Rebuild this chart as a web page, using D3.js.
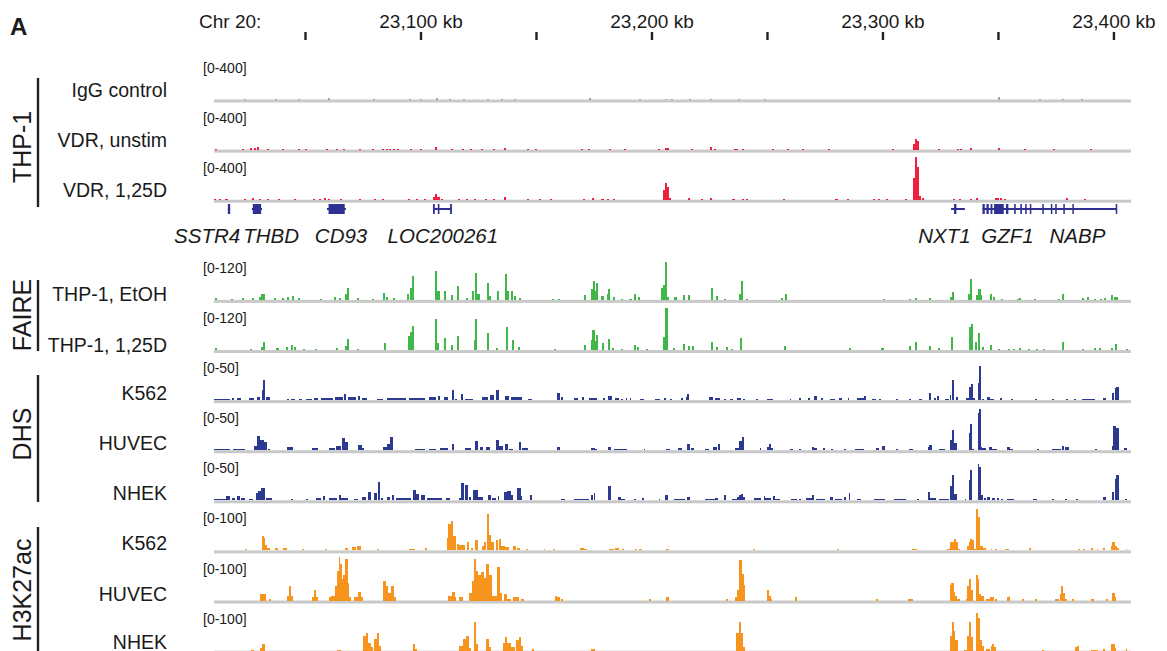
<!DOCTYPE html>
<html><head><meta charset="utf-8">
<script src="https://cdn.jsdelivr.net/npm/d3@7"></script>
<style>
body{margin:0;background:#fff}
svg{display:block;font-family:"Liberation Sans",Arial,Helvetica,sans-serif}
</style>
</head><body>
<svg id="chart" width="1167" height="651"></svg>
<script>
// Genomic positions are in kb past chr20:23,000 kb
const KB0 = 23000;
const viewKb = [23010.6, 23407.6];
const axisTicks = [23050, 23100, 23150, 23200, 23250, 23300, 23350, 23400];
const labeledTicks = [23100, 23200, 23300, 23400];

// [kb, value] bars
const iggControl = [[24,9],[37.4,9],[47.4,9],[60.4,18],[79.9,9],[95.5,9],[100.2,9],[107.1,18],[112.8,9],[118.8,9],[129.2,9],[135.3,9],[140.9,9],[173.4,18],[195,9],[206.3,9],[208.9,9],[216.7,9],[225.8,9],[237.9,9],[249.1,9],[350.3,27],[368.2,9],[378.1,9],[386.4,9]];
const vdrUnstim = [[11.5,9],[23.2,9],[26.6,18],[28.2,18],[29.7,27],[34,9],[40.5,9],[47.2,9],[50.4,9],[59.5,9],[63.9,9],[66.9,9],[73.8,9],[79.4,9],[83.8,9],[85.3,9],[86.8,9],[88.5,9],[90.3,9],[95.9,9],[100.2,9],[106.7,27],[113.6,9],[118.4,9],[121.9,9],[126.6,9],[131.8,9],[136.6,18],[146.5,9],[150,9],[169.9,9],[172.9,9],[182,9],[188.5,9],[203.2,9],[206.3,18],[207.1,18],[217.5,9],[225.8,27],[227.5,9],[236.1,9],[237,9],[239.6,9],[252.6,9],[259.1,9],[265.6,9],[276.8,9],[304.5,9],[313.6,55],[314.5,97],[315.4,75],[324.5,9],[332.7,9],[334,9],[338.4,18],[350.5,18],[361.9,9],[374.3,9],[390.3,9]];
const vdr125D = [[11,9],[13,9],[16,9],[24,9],[27.3,18],[30.5,9],[34,9],[38.9,9],[45.5,9],[53.8,9],[56.3,9],[58.8,18],[60.4,9],[65.4,9],[73.7,9],[80.3,9],[83.6,9],[95.2,9],[98.5,9],[101.9,9],[105.9,27],[106.8,52],[107.8,27],[109.3,9],[116.7,9],[120.1,9],[123.4,9],[128.4,9],[131.7,9],[136.6,27],[146.5,9],[151.6,9],[156.5,9],[170.6,9],[174.7,18],[178.8,9],[181.2,9],[183.6,9],[205.4,90],[206.3,155],[207.1,120],[208,18],[216.1,18],[221.7,9],[225.8,18],[235.5,9],[239.6,9],[241.2,9],[257.4,9],[280.1,9],[284.9,9],[296.3,9],[298.7,9],[301.9,9],[310,9],[313.8,200],[314.6,385],[315.4,300],[316.2,30],[317.4,18],[331.1,9],[333.5,9],[338.3,9],[340.9,18],[349,18],[350.2,18],[351.3,18],[353,9],[379.7,18],[387.8,9]];
const faireEtOH = [[11.6,5],[18.2,3],[23.2,5],[27.3,5],[30.6,8],[31.6,16],[32.4,16],[37.2,5],[40.6,5],[42.6,8],[44.7,11],[47.2,5],[57.1,3],[62.9,8],[65.1,5],[67.9,16],[68.7,33],[72.9,5],[79.5,3],[84.2,18],[85.3,8],[88.6,5],[94.7,16],[95.7,33],[96.9,65],[106.8,79],[107.8,25],[110.6,25],[113.5,14],[116.1,38],[120.1,5],[122.9,25],[124.2,74],[125.1,16],[129.2,46],[130,11],[133.7,25],[137,71],[138,25],[139.6,25],[140.8,11],[142.9,5],[157.4,3],[159.8,3],[171.4,14],[174.2,30],[175.1,52],[175.8,25],[176.5,46],[178.8,11],[181.2,16],[181.7,30],[183.6,8],[187.2,3],[190.9,3],[192.9,16],[194.5,8],[204.7,33],[205.5,40],[206.3,104],[207.1,8],[210.4,8],[214.1,14],[216.1,14],[226.1,33],[228.2,11],[231.9,3],[238.4,16],[239,52],[241.2,3],[256.6,5],[258.2,16],[300.6,3],[312,3],[314.6,5],[320.6,5],[329.8,8],[330.6,22],[337.6,16],[338.4,57],[340.9,14],[342,30],[342.8,14],[346.8,16],[348.1,8],[351.7,3],[358.7,3],[359.5,5],[366,3],[376.5,3],[378.1,16],[386.7,5],[389.1,8],[391.9,3],[394.8,3],[396.5,5],[399.5,14],[400.5,8],[401.7,8]];
const faire125D = [[11.6,5],[26.5,3],[31.3,8],[32.3,22],[38.1,5],[42.2,8],[44.2,14],[45.5,8],[49.7,3],[54.6,3],[63.8,5],[67.9,11],[68.7,30],[72.9,3],[84.5,19],[95.2,38],[96.1,50],[96.9,65],[106.8,85],[107.7,20],[110.8,33],[113.5,14],[116.3,38],[123.4,27],[124.2,85],[129.2,46],[133.3,5],[137.3,63],[140,27],[142.5,8],[158.2,3],[171.4,14],[174.2,27],[174.9,55],[175.5,25],[176.5,41],[179.1,19],[181.7,30],[183.3,5],[187.4,3],[192.9,14],[194.2,8],[197.9,3],[205.4,35],[206.5,115],[209.9,5],[213.9,16],[216.4,11],[218,11],[226.1,22],[228.4,8],[232.6,8],[234.7,3],[238.9,33],[257.9,11],[286.1,5],[300,5],[312,11],[314.6,22],[320.6,11],[324.3,5],[330.1,35],[337.9,63],[338.6,71],[340.5,22],[341.8,46],[343.4,8],[347,14],[350.5,3],[354.6,3],[357,3],[359.5,5],[363.5,3],[366.8,3],[370,3],[378.1,22],[387,3],[391.9,5],[394.3,5],[399.5,5],[401.1,16],[405.7,3]];

// [startKb, endKb, value] bars
const dhsK562 = [[10.7,17.4,1.1],[18.2,19.2,2.3],[20.7,22.3,2.3],[25.7,28.1,2.3],[29,30.6,3.4],[31.5,31.9,11],[31.9,32.8,23],[33.1,34.8,3.4],[42.2,43,1.1],[43.9,45.5,1.1],[47.2,48.9,1.1],[50.5,53,1.1],[53.8,55.5,2.3],[57.1,62.1,2.3],[63,66.3,3.4],[66.7,67.9,6.8],[68.7,72,3.4],[72.9,73.7,4.5],[74.5,77,2.3],[81.2,83.6,1.7],[85.3,93.6,2.3],[95.2,101.9,2.3],[103.5,106.8,3.4],[107.7,108.5,4.5],[110.2,111.8,3.4],[113.5,114.5,11.4],[115.1,116,1.1],[117.6,118.4,6.8],[119.3,122.6,1.1],[126.7,129.2,3.4],[130,131.7,5.7],[132.9,133.8,11.4],[136.7,138.3,4.5],[139.1,144.1,3.4],[146.6,148.3,1.1],[159,160.2,8],[160.7,161.8,3.4],[166.5,168.1,2.3],[169.8,170.7,3.4],[173.1,176.4,2.3],[179.1,180,2.3],[181.2,182.8,4.5],[184.4,186.1,2.3],[186.9,187.6,1.1],[188.8,189.3,2.3],[190.6,191.3,2.3],[195,196.6,1.1],[201.5,203.9,1.1],[205.5,206.3,2.3],[207.9,208.7,1.1],[212.8,213.6,2.3],[214.9,215.5,3.4],[215.5,216.4,6.8],[225,226.6,3.4],[227.4,229.8,2.3],[231.4,232.2,1.1],[233.9,235.5,1.1],[237.1,238.7,2.3],[239.5,240.3,1.1],[245.2,246,1.1],[250.1,252.5,1.1],[259.8,260.6,1.1],[263.9,264.7,2.3],[267.9,268.7,2.3],[270.3,271.5,4.5],[273.6,274.4,2.3],[277.3,279.3,1.1],[281.2,282.5,2.3],[284.9,285.7,2.3],[289,292.2,2.3],[292.2,293,4.5],[295.5,297.1,1.1],[298.7,299.5,1.1],[306,306.8,1.1],[311.7,312.5,1.1],[315.7,317.3,1.1],[320.1,321.1,8],[322.2,323,2.3],[323.8,324.6,4.5],[327.1,328.7,1.1],[329.2,329.8,5.7],[330,331.1,23],[331.9,332.7,3.4],[336.3,337.6,2.3],[337.6,338.4,14.4],[338.4,338.9,18],[339.2,340,2.3],[341.2,341.7,19],[341.8,342.8,38.6],[343.3,344.1,1.1],[345.4,346.5,3.4],[346.5,348.2,1.1],[350.9,351.7,2.3],[355.8,356.6,1.1],[366,366.8,1.1],[373.3,374.1,1.1],[379.4,380.2,1.1],[383,383.8,1.1],[386.2,391.9,1.1],[395.6,396.8,2.3],[399.5,400.3,8],[400.5,401.1,13.6],[401.1,402.4,14.8]];
const dhsHUVEC = [[10.7,17.4,1.1],[19,24,1.1],[28.1,29,4.5],[29.3,30.6,16.7],[30.6,32.3,12],[32.3,33.6,9],[33.9,34.8,1.1],[42.2,44.7,3.4],[53,55.5,2.3],[60.4,62.9,2.3],[63.4,65.4,4.5],[65.9,67.1,14],[67.1,68.7,9],[72.9,74.5,5.7],[74.5,75.4,2.3],[83.6,85.3,3.4],[85.6,86.6,6.8],[87,88.3,15],[97.7,101.9,1.1],[103.5,106.8,1.1],[108.5,111.8,2.3],[113.5,114.5,6.8],[119.3,121.8,2.3],[123.4,124.7,10],[125.8,127,3.4],[128.4,130,3.4],[132.9,133.8,11.4],[134.2,135.9,4.5],[136.7,138,6.8],[138.3,139.9,1.1],[142.5,143.6,9],[144.1,146.6,2.3],[159,160.2,3.4],[173.9,175.5,2.3],[175.5,176.4,1.1],[181.2,182.3,3.4],[183.6,189.3,1.1],[196.6,197.4,1.1],[206.3,207.9,1.1],[211.5,213.1,2.3],[215.2,216.5,6.8],[217.2,218.5,2.3],[223.3,224.9,1.1],[226.6,228.2,3.4],[229,229.8,6.8],[236.3,237.9,2.3],[237.9,239,10],[239,240,14.8],[246.8,247.6,2.3],[250.1,250.9,3.4],[250.9,251.7,6.8],[251.7,252.5,2.3],[259.8,261.4,1.1],[263.9,264.7,1.1],[269.5,270.3,3.4],[270.3,271.5,2.3],[274.4,275.2,2.3],[277.9,278.7,1.1],[283.3,284.1,1.1],[288.2,292.2,1.1],[297.1,298.7,2.3],[300,301.1,4.5],[306,306.8,1.1],[311.7,313.3,1.1],[319.5,320.1,3.4],[320.1,321.4,5.7],[324.6,327.1,1.1],[329.2,330.1,11.4],[330.1,331.1,22.7],[331.1,332.3,8],[337.3,337.9,19.3],[337.9,338.9,29.5],[338.9,339.6,1.1],[341.2,341.9,42],[341.9,342.5,46.6],[342.5,343.3,3.4],[343.3,344.9,2.3],[346.2,347.3,3.4],[347.3,349.7,1.1],[353.8,355.4,3.4],[355.4,356.7,1.1],[366.8,367.6,1.1],[373.3,377.3,1.1],[377.8,378.4,4.5],[379,380.6,3.4],[391.9,392.7,1.1],[399.2,400,4.5],[400,401.1,27.3],[401.1,402.4,25],[404.4,405.7,2.3]];
const dhsNHEK = [[10.7,15.7,1.1],[16,17.4,4.5],[18.2,19.9,2.3],[20.7,22,4.5],[22.3,24,2.3],[25.7,27.3,1.1],[28.6,29.8,8],[29.8,31,10.2],[31,32.6,13.6],[33.1,35.6,2.3],[43.9,44.7,1.1],[50.5,51.3,1.1],[54.6,57.1,2.3],[57.6,58.8,4.5],[60.4,63.8,2.3],[64.6,65.4,5.7],[65.4,68.7,2.3],[71.2,72.9,1.1],[74.5,76.2,3.4],[77.4,78.7,9],[80,81.2,8],[81.7,82.5,20.5],[82.8,83.6,2.3],[85.3,87,3.4],[87.8,88.6,5.7],[89.4,96.1,2.3],[96.9,98.2,11.4],[98.2,99.4,6.8],[100.2,101.9,5.7],[102.7,109.3,2.3],[111,112.6,2.3],[116.8,117.6,2.3],[117.6,118.8,19.3],[119.3,120.4,17],[120.9,121.8,3.4],[122.6,125.1,11.4],[125.1,127.1,3.4],[129.2,130.4,5.7],[130.9,132.6,2.3],[133.4,134.2,4.5],[136.3,137.5,9],[137.5,139.1,10.2],[139.1,139.9,5.7],[141.6,143.3,13.6],[143.3,144.1,4.5],[147.4,148.3,5.7],[160.7,162.4,1.1],[166.5,173.1,1.1],[173.9,174.7,5.7],[175,175.5,8],[181.2,182.3,16],[185.3,186.9,3.4],[186.9,188.5,1.1],[192.5,193.3,1.1],[195.8,196.9,2.3],[203.1,203.9,1.1],[206,207.1,5.7],[209.6,214.4,1.1],[215.2,216.5,3.4],[223.3,227.4,1.1],[227.4,229,2.3],[231.4,232.2,5.7],[234.7,237.1,1.1],[237.1,237.9,3.4],[237.9,238.7,5.7],[238.7,239.5,6.8],[239.5,240.3,3.4],[244.4,247.6,2.3],[248.5,249.3,4.5],[249.3,251.7,2.3],[252.5,253.6,4.5],[253.6,255.8,1.1],[260.6,263,1.1],[263.9,264.7,1.1],[267.1,269.5,2.3],[269.5,270.3,5.7],[271.2,275.2,1.1],[277.3,278.4,3.4],[279.3,282.5,1.1],[283.3,284.4,3.4],[285.4,286.1,8],[288.9,290.6,1.1],[296.3,301.1,1.1],[305.2,310,1.1],[314.9,315.7,1.1],[319.8,320.6,9],[320.6,323,2.3],[324.3,328.7,1.1],[329.2,330.3,16],[330.3,331.1,28.4],[331.1,332.4,6.8],[335.7,336.3,1.1],[337.6,338.1,22.7],[338.1,338.9,34],[341.2,341.9,41],[341.9,342.8,37.5],[342.8,343.7,5.7],[344.1,344.9,2.3],[345.4,346.5,3.4],[347.3,348.9,2.3],[349.4,350.5,2.3],[351.5,352.3,1.1],[353.8,357,1.1],[365.2,366.8,1.1],[373.3,374.1,1.1],[379,379.8,1.1],[383.8,384.6,1.1],[395.6,396.8,3.4],[399.5,400.3,9],[400.5,401.1,23.9],[401.1,402.4,28.4],[404.9,405.7,1.1]];
const h3k27acK562 = [[24,24.8,2.3],[31.5,32.1,33],[32.1,32.8,28],[32.8,33.3,13],[33.3,34.8,5],[37.2,38.1,4.5],[40.6,42.2,4.5],[48.9,49.7,2.3],[58.8,59.6,2.3],[67.1,68.7,4.5],[70.4,72,6.8],[72.4,74.1,11],[81.2,82,2.3],[95.2,97.7,2.3],[101.9,102.7,4.5],[111.5,112.1,29],[112.1,113,60],[113,113.9,66],[113.9,115.3,32],[116,116.8,15],[116.8,119.3,13],[120.1,120.9,18],[121.8,122.6,4.5],[123.4,124.7,23],[126.7,127.6,11],[127.6,128.4,20],[128.7,129.7,82],[129.7,130.5,36],[130.5,131.7,18],[132.6,133.4,23],[133.8,134.7,27],[135,136.7,11],[136.7,138.3,7],[140,141.3,11],[141.6,142.9,4.5],[145.8,146.6,2.3],[153.3,154.1,2.3],[157.4,158.2,2.3],[169,170.6,4.5],[170.6,171.9,2.3],[181.7,183.6,2.3],[184.4,186.1,4.5],[187.2,188.2,2.3],[193,193.6,2.3],[194.6,195.8,2.3],[206.3,207.6,2.3],[244,244.6,2.3],[280.5,281.2,2.3],[313,314.9,2.3],[327.8,329.2,2.3],[329.2,331.1,20],[331.1,331.9,27],[331.9,332.7,18],[332.7,333.5,2.3],[336.5,337.3,9],[337.3,337.9,20],[337.9,338.9,27],[338.9,339.4,23],[339.4,340.3,2.3],[340.5,341.5,93],[341.5,342.1,75],[342.1,343.7,9],[343.7,344.8,4.5],[346.8,347.6,2.3],[348.9,349.7,2.3],[352.9,354.6,2.3],[363.5,364.3,4.5],[384.6,385.4,2.3],[387,387.8,2.3],[390.3,391.1,4.5],[392.7,393.5,2.3],[395.6,396.3,4.5],[398.9,399.5,11],[399.5,400.8,18],[400.8,401.6,11],[401.6,402.4,4.5],[405.3,406,2.3]];
const h3k27acHUVEC = [[30.6,33.1,15],[34.3,35.1,2.3],[42.2,43.1,11],[43.1,43.9,32],[43.9,44.7,11],[53,53.8,9],[53.8,54.6,23],[54.6,55.5,7],[60.4,61.3,7],[61.3,62.9,11],[62.9,63.8,32],[63.8,64.6,68],[64.6,65.1,98],[65.1,65.8,82],[65.8,66.6,50],[66.6,67.4,59],[67.4,68.4,95],[68.4,69.1,39],[69.1,69.6,7],[71.2,72.9,7],[72.9,74.1,20],[74.1,75.1,9],[83.6,85,44],[85,86.1,34],[86.1,87.3,18],[87.3,88.6,32],[88.6,89.4,7],[112.1,113.5,11],[113.5,114.8,20],[114.8,115.5,7],[116.8,118.4,7],[120.9,122.1,18],[122.1,123.1,45],[123.1,124.2,95],[124.2,125.1,68],[125.1,126.4,57],[126.4,127.6,64],[127.6,128.4,52],[128.4,129.7,82],[129.7,130.9,57],[130.9,133,11],[133,134.3,77],[134.3,135.3,18],[136.3,137.5,14],[137.5,139.1,4.5],[140,142.5,7],[143.3,144.9,2.3],[158.2,159,11],[159,160.2,9],[160.7,161.5,4.5],[199,199.8,2.3],[206.3,207.6,7],[232.2,233,2.3],[236.3,237.1,9],[237.1,237.9,23],[237.9,239,93],[239,239.9,61],[239.9,240.7,36],[250.1,250.9,23],[250.9,251.7,11],[251.7,252.2,2.3],[262.2,263,7],[297.1,297.9,2.3],[310.9,311.7,2.3],[311.7,313.3,4.5],[329.2,329.8,36],[329.8,330.8,39],[330.8,331.4,20],[331.4,332.4,11],[332.4,333.5,4.5],[336,336.8,2.3],[336.8,337.6,34],[337.6,338.4,48],[338.4,339.2,25],[340.5,341.2,57],[341.2,341.8,50],[341.8,342.5,14],[342.5,344.1,11],[344.9,346.5,4.5],[346.5,348.1,7],[348.9,349.7,4.5],[353.8,354.6,9],[354.6,355.4,11],[360.3,361.1,2.3],[366,366.8,2.3],[374.9,376.5,2.3],[376.8,377.5,14],[377.5,378.1,32],[378.1,378.9,18],[378.9,380.1,4.5],[382.2,383,2.3],[390.3,391.4,4.5],[396.7,397.5,2.3],[399.2,400.5,16],[400.5,401.1,7]];
const h3k27acNHEK = [[26.5,28.1,2.3],[30.3,31.5,7],[31.5,32.6,14],[63.8,65.4,2.3],[75,76.2,34],[76.2,77.4,41],[77.4,78.4,18],[78.7,79.5,9],[80,81.2,27],[81.2,82,41],[82,82.8,11],[96.6,97.7,16],[97.7,98.5,4.5],[116.8,118.4,11],[118.4,119.8,27],[119.8,120.9,34],[120.9,121.8,7],[123.1,124.2,64],[124.2,125.1,14],[128.4,129.7,27],[129.7,130.5,9],[135.9,136.7,18],[136.7,137.5,32],[137.5,139.1,18],[139.1,140.8,9],[141.3,142.5,23],[142.5,143.6,32],[143.6,144.4,11],[148.3,149.1,4.5],[173.9,175.5,4.5],[236.8,237.9,41],[237.9,238.7,66],[238.7,239.7,41],[239.7,240,9],[329.2,330,34],[330,330.8,66],[330.8,331.6,45],[331.6,332.7,23],[335.2,336.8,2.3],[336.8,337.6,34],[337.6,338.4,66],[338.4,339.2,30],[340.5,341.3,86],[341.3,342.1,75],[342.1,342.9,23],[342.9,344.1,11],[344.9,346.5,4.5],[346.9,347.3,11],[347.3,348.1,16],[348.1,349.2,9],[369.2,370,2.3],[383.3,384.3,9],[384.3,384.9,11],[390.3,393.5,2.3],[395.6,396.3,4.5],[398.9,399.5,14],[399.5,400.5,16],[400.5,401.1,7],[405.3,405.9,4.5]];

// Gene models (kb past 23,000)
const genes = [
  {name:"SSTR4", start:16.6, end:17.6, exons:[[16.6,17.6]]},
  {name:"THBD", start:27, end:31.4, exons:[[27.4,31]]},
  {name:"CD93", start:59.5, end:67.7, exons:[[60.2,67.2]]},
  {name:"LOC200261", start:105.4, end:113.6, exons:[[105.4,106.2],[107.5,108.2],[112.8,113.6]]},
  {name:"NXT1", start:329.7, end:335.7, exons:[[331,332]]},
  {name:"GZF1", start:343.3, end:355.6, exons:[[343.3,344.3],[345,346],[346.8,347.6],[348.3,352.5],[353.5,354.5]]},
  {name:"NABP", start:355.6, end:401.5, exons:[[357,357.7],[359.7,360.4],[361.8,362.4],[363.8,364.4],[369.2,369.8],[372.9,373.5],[374.8,375.4],[378.3,378.9],[382.2,382.8],[401,401.5]]}
];
const geneLabelNames = ["SSTR4","THBD","CD93","LOC200261","NXT1","GZF1","NABP"];
const geneLabelKb = [7.6, 35.3, 65.6, 109.7, 326.8, 354.1, 384.4];

const trackNames = ["IgG control","VDR, unstim","VDR, 1,25D","THP-1, EtOH","THP-1, 1,25D","K562","HUVEC","NHEK","K562","HUVEC","NHEK"];
const trackRanges = [400,400,400,120,120,50,50,50,100,100,100];
const trackData = [iggControl, vdrUnstim, vdr125D, faireEtOH, faire125D, dhsK562, dhsHUVEC, dhsNHEK, h3k27acK562, h3k27acHUVEC, h3k27acNHEK];
const groupNames = ["THP-1","FAIRE","DHS","H3K27ac"];

// ---- layout / style ----
const colors = ["#a3a3a3","#ee1f3f","#ee1f3f","#41b649","#41b649","#2b3990","#2b3990","#2b3990","#f7941d","#f7941d","#f7941d"];
const slots = [0,1,2,4,5,6,7,8,9,10,11];
const labelDy = [-3,-3,-3,1.5,1.5,0,0,0,0,0,-1.5];
const groupLayout = [{y0:78,y1:207,cy:147},{y0:280,y1:351,cy:315},{y0:375,y1:502,cy:434},{y0:527,y1:670,cy:590}];
const baseY = s => 99.5 + 50.1*s;
const trackH = 44;
const textCol = "#1a1a1a";

const svg = d3.select("#chart");
const x = d3.scaleLinear().domain(viewKb).range([214, 1131]);
const xr = x.range();

// Panel letter
svg.append("text").attr("x",10).attr("y",35).attr("font-size",24).attr("font-weight","bold").attr("fill",textCol).text("A");

// Ruler
svg.append("text").attr("x",199).attr("y",28).attr("font-size",19).attr("fill",textCol).text("Chr 20:");
const axis = d3.axisTop(x).tickValues(axisTicks).tickSize(8).tickPadding(4)
  .tickFormat(d => labeledTicks.includes(d) ? d3.format(",")(d) + " kb" : "");
const ag = svg.append("g").attr("transform","translate(0,40)").call(axis);
ag.select(".domain").remove();
ag.selectAll(".tick line").attr("stroke","#222").attr("stroke-width",2.4);
ag.selectAll(".tick text").attr("font-size",19).attr("fill",textCol).attr("font-family","Liberation Sans, Arial, sans-serif");

// Tracks
trackData.forEach((data, i) => {
  const b = baseY(slots[i]);
  const y = d3.scaleLinear().domain([0, trackRanges[i]]).range([b, b - trackH]).clamp(true);
  const g = svg.append("g");
  g.append("rect").attr("x", xr[0]).attr("width", xr[1]-xr[0]).attr("y", b).attr("height", 3).attr("fill", "#c9c9c9");
  g.append("g").attr("shape-rendering","crispEdges").selectAll("rect").data(data).join("rect")
    .attr("x", d => x(KB0 + (d.length === 3 ? d[0] : d[0] - 0.45)))
    .attr("width", d => Math.max(1.4, d.length === 3 ? x(KB0+d[1]) - x(KB0+d[0]) : x(KB0+0.9) - x(KB0)))
    .attr("y", d => Math.min(y(d[d.length-1]), b - 1))
    .attr("height", d => Math.max(1, b - y(d[d.length-1])))
    .attr("fill", colors[i]);
  g.append("text").attr("x", 203).attr("y", b - 27).attr("font-size", 14).attr("fill", textCol)
    .text(`[0-${trackRanges[i]}]`);
  g.append("text").attr("x", 167).attr("y", b + labelDy[i]).attr("font-size", 19.5).attr("text-anchor","end")
    .attr("fill", textCol).text(trackNames[i]);
});

// Group brackets and labels
groupNames.forEach((name, i) => {
  const gl = groupLayout[i];
  svg.append("line").attr("x1",38).attr("x2",38).attr("y1",gl.y0).attr("y2",gl.y1)
    .attr("stroke","#222").attr("stroke-width",2.4);
  svg.append("text").attr("transform",`translate(31,${gl.cy}) rotate(-90)`)
    .attr("text-anchor","middle").attr("font-size",25).attr("fill",textCol).text(name);
});

// Gene track
const geneY = 209;
const gg = svg.append("g").attr("fill","#2e3192").attr("stroke","#2e3192");
gg.selectAll("line").data(genes).join("line")
  .attr("x1", d => x(KB0+d.start)).attr("x2", d => x(KB0+d.end))
  .attr("y1", geneY).attr("y2", geneY).attr("stroke-width", 2);
genes.forEach(gn => {
  gg.append("g").attr("stroke","none").selectAll("rect").data(gn.exons).join("rect")
    .attr("x", d => x(KB0+d[0])).attr("width", d => Math.max(1.5, x(KB0+d[1]) - x(KB0+d[0])))
    .attr("y", geneY - 5).attr("height", 10);
});
svg.append("g").selectAll("text").data(geneLabelNames).join("text")
  .attr("x", (d,i) => x(KB0 + geneLabelKb[i])).attr("y", 243)
  .attr("text-anchor","middle").attr("font-size",20.5).attr("font-style","italic")
  .attr("fill",textCol).text(d => d);
</script>
</body></html>
